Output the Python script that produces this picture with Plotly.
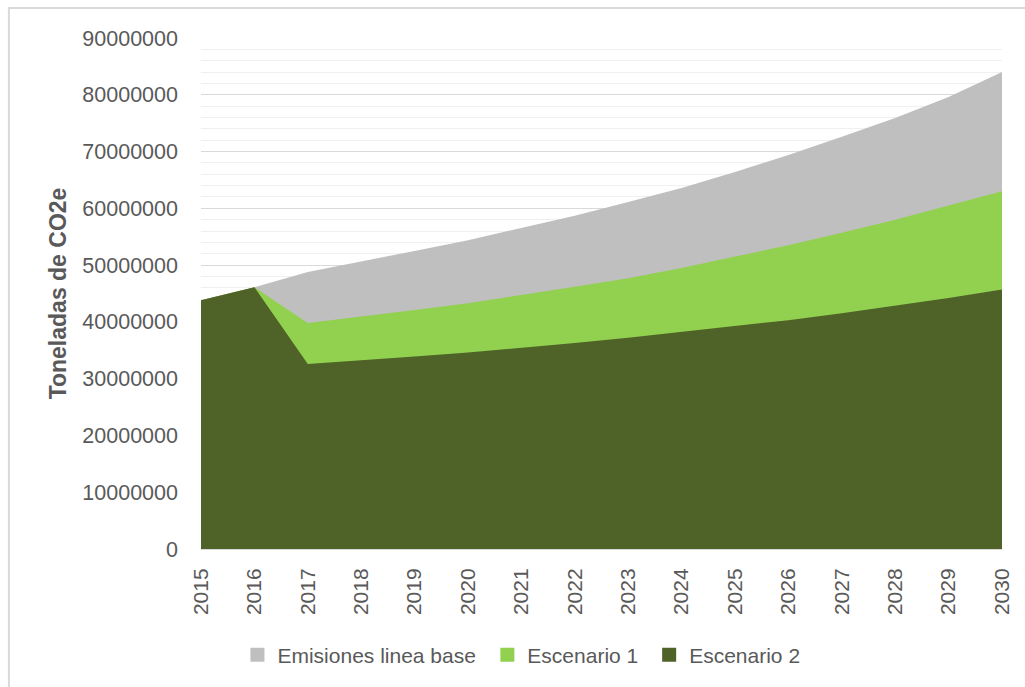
import plotly.graph_objects as go

# Annual CO2e emissions (tonnes) per scenario
years = [2015, 2016, 2017, 2018, 2019, 2020, 2021, 2022,
         2023, 2024, 2025, 2026, 2027, 2028, 2029, 2030]

linea_base = [43.8e6, 46.1e6, 48.8e6, 50.6e6, 52.5e6, 54.4e6, 56.5e6, 58.7e6,
              61.1e6, 63.6e6, 66.4e6, 69.4e6, 72.6e6, 75.9e6, 79.6e6, 84.0e6]

escenario_1 = [43.8e6, 46.1e6, 39.8e6, 40.9e6, 42.1e6, 43.3e6, 44.7e6, 46.2e6,
               47.7e6, 49.5e6, 51.5e6, 53.5e6, 55.7e6, 58.0e6, 60.5e6, 63.0e6]

escenario_2 = [43.8e6, 46.1e6, 32.6e6, 33.2e6, 33.9e6, 34.6e6, 35.4e6, 36.3e6,
               37.2e6, 38.2e6, 39.2e6, 40.3e6, 41.5e6, 42.8e6, 44.2e6, 45.7e6]

series = [
    ("Emisiones linea base", linea_base, "#bfbfbf"),
    ("Escenario 1", escenario_1, "#92d050"),
    ("Escenario 2", escenario_2, "#4f6228"),
]

FONT = "Liberation Sans"
TEXT = "#595959"

fig = go.Figure()

# Overlapping filled areas, drawn back to front
for name, vals, color in series:
    fig.add_trace(go.Scatter(
        x=years, y=vals, mode="lines", fill="tozeroy",
        line=dict(width=0, color=color), fillcolor=color,
        showlegend=False, hoverinfo="x+y", name=name,
    ))

# Square legend keys, one legend box per series so each can be placed
legend_ids = ["legend", "legend2", "legend3"]
legend_x = [0.0455, 0.3575, 0.5595]
for (name, vals, color), lid in zip(series, legend_ids):
    fig.add_trace(go.Scatter(
        x=[None], y=[None], mode="markers", name=name,
        marker=dict(symbol="square", size=14, color=color),
        showlegend=True, legend=lid,
    ))

legend_style = dict(
    orientation="h", xanchor="left", y=-0.2074, yanchor="middle",
    font=dict(family=FONT, size=21, color=TEXT),
    bgcolor="rgba(0,0,0,0)",
)

fig.update_layout(
    width=1025, height=687,
    margin=dict(l=201, r=19, t=38, b=138),
    paper_bgcolor="white", plot_bgcolor="white",
    font=dict(family=FONT, size=21, color=TEXT),
    legend=dict(x=legend_x[0], **legend_style),
    legend2=dict(x=legend_x[1], **legend_style),
    legend3=dict(x=legend_x[2], **legend_style),
    xaxis=dict(
        range=[2015, 2030], tickmode="array", tickvals=years,
        ticktext=[str(y) for y in years], tickangle=-90,
        showgrid=False, zeroline=False,
        showline=True, linecolor="#d9d9d9", linewidth=1,
        ticks="", ticklabelstandoff=10,
        tickfont=dict(family=FONT, size=21, color=TEXT),
    ),
    yaxis=dict(
        range=[0, 90e6], dtick=10e6, tickformat="d",
        showgrid=True, gridcolor="#d9d9d9", gridwidth=1,
        minor=dict(dtick=2e6, showgrid=True, gridcolor="#f0f0f0", gridwidth=1),
        zeroline=False, showline=False, ticks="", ticklabelstandoff=22,
        tickfont=dict(family=FONT, size=21.5, color=TEXT),
        title=dict(text="<b>Toneladas de CO2e</b>", standoff=9,
                   font=dict(family=FONT, size=23, color=TEXT)),
    ),
    shapes=[dict(
        type="rect", xref="paper", yref="paper",
        x0=-0.2398, x1=1.2, y0=-0.5, y1=1.0587,
        line=dict(color="#d9d9d9", width=2), fillcolor="rgba(0,0,0,0)",
        layer="below",
    )],
)

fig.write_html("out.html")
